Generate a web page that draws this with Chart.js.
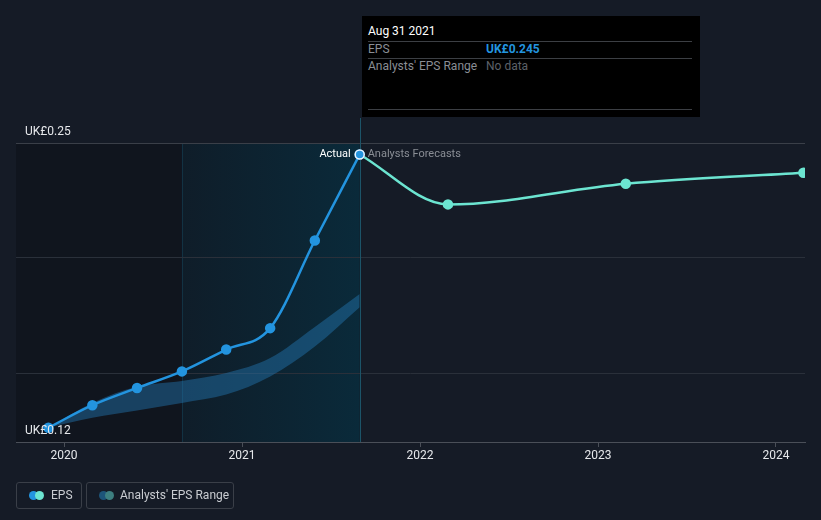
<!DOCTYPE html>
<html>
<head>
<meta charset="utf-8">
<script src="https://cdn.jsdelivr.net/npm/chart.js@4.4.1/dist/chart.umd.min.js"></script>
<style>
  html, body { margin: 0; padding: 0; background: #151b26; }
  body { width: 821px; height: 520px; position: relative; overflow: hidden; font-family: Roboto, "Noto Sans", sans-serif; }
  #wrap { position: absolute; left: 0; top: 0; width: 821px; height: 520px; }
  .tip { position: absolute; left: 362px; top: 16px; width: 338px; height: 101px; background: #000; color: #8a8e95; font-size: 12px; }
  .tip .title { position: absolute; left: 6px; top: 8px; color: #fff; }
  .tip .rule { position: absolute; left: 6px; width: 324px; height: 1px; background: #3c3f44; }
  .tip .lab { position: absolute; left: 6px; }
  .tip .val { position: absolute; left: 124px; }
  .legend { position: absolute; top: 482px; height: 27px; border: 1px solid #3a3f48; border-radius: 3px; color: #c9ccd1; font-size: 12px; line-height: 25px; box-sizing: border-box; }
  .dot { position: absolute; top: 8px; width: 9px; height: 9px; border-radius: 50%; }
</style>
</head>
<body>
<div id="wrap"><canvas id="chart" width="821" height="520"></canvas></div>

<div class="tip">
  <div class="title">Aug 31 2021</div>
  <div class="rule" style="top:25px"></div>
  <div class="lab" style="top:26px">EPS</div>
  <div class="val" style="top:26px; color:#2394df; font-weight:bold">UK£0.245</div>
  <div class="rule" style="top:42px"></div>
  <div class="lab" style="top:43px">Analysts' EPS Range</div>
  <div class="val" style="top:43px; color:#5d6168">No data</div>
  <div class="rule" style="top:93px"></div>
</div>

<div class="legend" style="left:16px; width:66px">
  <span class="dot" style="left:12px; background:#2394df"></span>
  <span class="dot" style="left:18px; background:#6ce5d1"></span>
  <span style="position:absolute; left:34px">EPS</span>
</div>
<div class="legend" style="left:86px; width:148px">
  <span class="dot" style="left:12px; background:#1d5479"></span>
  <span class="dot" style="left:18px; background:#3d7f80"></span>
  <span style="position:absolute; left:33px">Analysts' EPS Range</span>
</div>

<script>
// Data (x in decimal years)
const actualDates = [2019.912, 2020.159, 2020.41, 2020.662, 2020.911, 2021.158, 2021.409, 2021.661];
const actualEps = [0.1262, 0.136, 0.1435, 0.1507, 0.1602, 0.1695, 0.2076, 0.245];

const forecastDates = [2021.661, 2022.157, 2023.156, 2024.154];
const forecastEps = [0.245, 0.2233, 0.2323, 0.2371];

const rangeDates = [2019.912, 2020.159, 2020.41, 2020.662, 2020.911, 2021.158, 2021.409, 2021.661];
const rangeHigh = [0.1262, 0.137, 0.144, 0.1465, 0.150, 0.1565, 0.170, 0.1843];
const rangeLow = [0.1262, 0.1305, 0.1337, 0.137, 0.1406, 0.1485, 0.1615, 0.1786];

const yearTicks = [2020, 2021, 2022, 2023, 2024];
const yTicks = [0.12, 0.15, 0.2, 0.25];
const yLabelled = [0.12, 0.25];

const pastStart = 2020.662;   // start of shaded "last year" region
const nowDate = 2021.661;     // actual / forecast split

function pts(xs, ys) {
  return xs.map((x, i) => ({ x: x, y: ys[i] }));
}

const bgPlugin = {
  id: 'bgRegions',
  beforeDraw(chart) {
    const { ctx, chartArea, scales } = chart;
    const x0 = scales.x.getPixelForValue(pastStart);
    const x1 = scales.x.getPixelForValue(nowDate);
    ctx.save();
    ctx.fillStyle = '#10151e';
    ctx.fillRect(chartArea.left, chartArea.top, x0 - chartArea.left, chartArea.bottom - chartArea.top);
    const g = ctx.createLinearGradient(x0, 0, x1, 0);
    g.addColorStop(0, '#0f1d29');
    g.addColorStop(1, '#0a2a3a');
    ctx.fillStyle = g;
    ctx.fillRect(x0, chartArea.top, x1 - x0, chartArea.bottom - chartArea.top);
    ctx.fillStyle = '#123243';
    ctx.fillRect(Math.round(x0), chartArea.top, 1, chartArea.bottom - chartArea.top);
    ctx.restore();
  },
  afterDatasetsDraw(chart) {
    const { ctx, chartArea, scales } = chart;
    const x1 = scales.x.getPixelForValue(nowDate);
    const y1 = scales.y.getPixelForValue(actualEps[actualEps.length - 1]);
    ctx.save();
    ctx.fillStyle = '#1c5468';
    ctx.fillRect(Math.round(x1), 118, 1, chartArea.bottom - 118);
    ctx.font = '11px Roboto, sans-serif';
    ctx.textBaseline = 'middle';
    ctx.textAlign = 'right';
    ctx.fillStyle = '#ffffff';
    ctx.fillText('Actual', x1 - 9, y1);
    ctx.textAlign = 'left';
    ctx.fillStyle = '#8a8e95';
    ctx.fillText('Analysts Forecasts', x1 + 8, y1);
    // redraw current point on top
    ctx.beginPath();
    ctx.arc(x1, y1, 4.5, 0, Math.PI * 2);
    ctx.fillStyle = '#2394df';
    ctx.fill();
    ctx.lineWidth = 1.5;
    ctx.strokeStyle = '#e8f4ff';
    ctx.stroke();
    // y axis labels, sitting above their grid lines
    ctx.font = '12px Roboto, sans-serif';
    ctx.fillStyle = '#e6e8eb';
    ctx.textBaseline = 'middle';
    yLabelled.forEach(v => {
      ctx.fillText('UK£' + v.toFixed(2), chartArea.left + 9, scales.y.getPixelForValue(v) - 11);
    });
    ctx.restore();
  }
};

new Chart(document.getElementById('chart'), {
  type: 'line',
  data: {
    datasets: [
      {
        label: 'EPS',
        data: pts(actualDates, actualEps),
        borderColor: '#2394df',
        backgroundColor: '#2394df',
        borderWidth: 2.5,
        pointRadius: 4,
        pointHoverRadius: 4,
        cubicInterpolationMode: 'monotone',
        fill: false,
        order: 1
      },
      {
        label: 'Forecast',
        data: pts(forecastDates, forecastEps),
        borderColor: '#6ce5d1',
        backgroundColor: '#6ce5d1',
        borderWidth: 2.5,
        pointRadius: [0, 4, 4, 4],
        cubicInterpolationMode: 'monotone',
        fill: false,
        order: 2
      },
      {
        label: 'High',
        data: pts(rangeDates, rangeHigh),
        borderColor: 'rgba(0,0,0,0)',
        backgroundColor: 'rgba(35,120,180,0.45)',
        borderWidth: 0,
        pointRadius: 0,
        cubicInterpolationMode: 'monotone',
        fill: '+1',
        order: 3
      },
      {
        label: 'Low',
        data: pts(rangeDates, rangeLow),
        borderColor: 'rgba(0,0,0,0)',
        borderWidth: 0,
        pointRadius: 0,
        cubicInterpolationMode: 'monotone',
        fill: false,
        order: 4
      }
    ]
  },
  options: {
    responsive: false,
    animation: false,
    events: [],
    layout: { padding: { left: 16, right: 16, top: 143, bottom: 0 } },
    plugins: { legend: { display: false }, tooltip: { enabled: false } },
    scales: {
      x: {
        type: 'linear',
        min: 2019.73,
        max: 2024.163,
        afterBuildTicks: (s) => { s.ticks = yearTicks.map(v => ({ value: v })); },
        afterFit: (s) => { s.height = 78; },
        ticks: {
          color: '#e6e8eb',
          font: { family: 'Roboto', size: 12 },
          padding: 2,
          maxRotation: 0,
          callback: (v) => String(v)
        },
        grid: { drawOnChartArea: false, drawTicks: true, tickLength: 5, tickColor: '#4a4f58' },
        border: { color: '#4a4f58', width: 1 }
      },
      y: {
        min: 0.12,
        max: 0.25,
        afterBuildTicks: (s) => { s.ticks = yTicks.map(v => ({ value: v })); },
        afterFit: (s) => { s.width = 0; },
        ticks: { display: false },
        grid: {
          drawTicks: false,
          color: (c) => c.tick && c.tick.value === 0.12 ? 'rgba(0,0,0,0)' : (c.tick && c.tick.value === 0.25 ? '#3a3f48' : '#2a303a')
        },
        border: { display: false }
      }
    }
  },
  plugins: [bgPlugin]
});
</script>
</body>
</html>
